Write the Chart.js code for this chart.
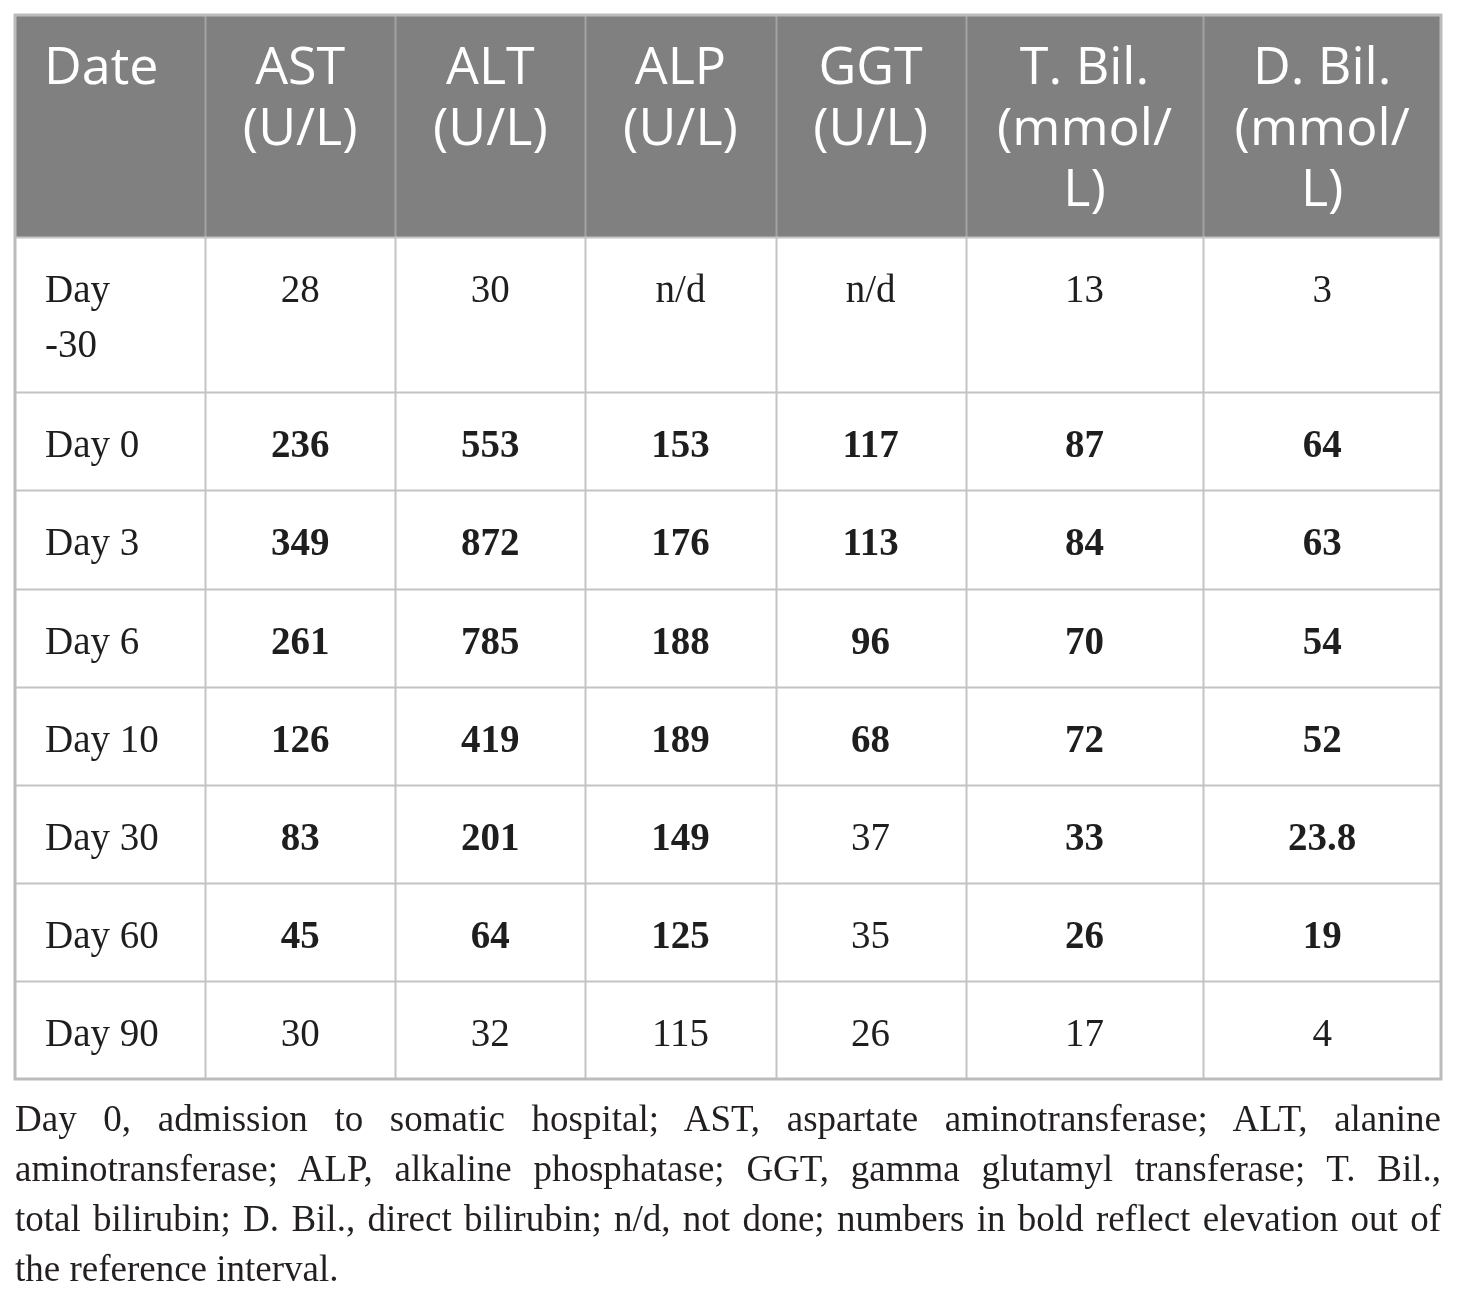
<!DOCTYPE html>
<html lang="en">
<head>
    <meta charset="UTF-8">
    <title>Liver function tests</title>
    <script src="https://cdn.jsdelivr.net/npm/chart.js"></script>
    <style>
        body {
            margin: 0;
            padding: 0;
            background-color: #ffffff;
        }

        .page {
            position: relative;
            width: 1460px;
            height: 1298px;
        }

        #tableChart {
            position: absolute;
            left: 0;
            top: 0;
        }

        .caption {
            position: absolute;
            left: 15px;
            top: 1094px;
            width: 1426px;
            font-family: "Liberation Serif", "DejaVu Serif", serif;
            font-size: 37px;
            line-height: 50px;
            color: #231f20;
        }

        .caption div {
            text-align: justify;
            text-align-last: justify;
            white-space: nowrap;
        }

        .caption div.last {
            text-align-last: left;
        }
    </style>
</head>
<body>
    <div class="page">
        <canvas id="tableChart" width="1460" height="1298"></canvas>
        <div class="caption">
            <div>Day 0, admission to somatic hospital; AST, aspartate aminotransferase; ALT, alanine</div>
            <div>aminotransferase; ALP, alkaline phosphatase; GGT, gamma glutamyl transferase; T. Bil.,</div>
            <div>total bilirubin; D. Bil., direct bilirubin; n/d, not done; numbers in bold reflect elevation out of</div>
            <div class="last">the reference interval.</div>
        </div>
    </div>

    <script>
        // table data
        const headers = [['Date'], ['AST', '(U/L)'], ['ALT', '(U/L)'], ['ALP', '(U/L)'], ['GGT', '(U/L)'],
            ['T. Bil.', '(mmol/', 'L)'], ['D. Bil.', '(mmol/', 'L)']];
        const dates = [['Day', '-30'], ['Day 0'], ['Day 3'], ['Day 6'], ['Day 10'], ['Day 30'], ['Day 60'], ['Day 90']];

        const ast = [28, 236, 349, 261, 126, 83, 45, 30];
        const alt = [30, 553, 872, 785, 419, 201, 64, 32];
        const alp = [null, 153, 176, 188, 189, 149, 125, 115];
        const ggt = [null, 117, 113, 96, 68, 37, 35, 26];
        const tbil = [13, 87, 84, 70, 72, 33, 26, 17];
        const dbil = [3, 64, 63, 54, 52, 23.8, 19, 4];

        // bold = above the reference interval
        const astBold = [false, true, true, true, true, true, true, false];
        const altBold = [false, true, true, true, true, true, true, false];
        const alpBold = [false, true, true, true, true, true, true, false];
        const ggtBold = [false, true, true, true, true, false, false, false];
        const tbilBold = [false, true, true, true, true, true, true, false];
        const dbilBold = [false, true, true, true, true, true, true, false];

        const series = [
            { values: ast, bold: astBold },
            { values: alt, bold: altBold },
            { values: alp, bold: alpBold },
            { values: ggt, bold: ggtBold },
            { values: tbil, bold: tbilBold },
            { values: dbil, bold: dbilBold }
        ];

        // layout: relative column widths, row heights (header first)
        const columnWeights = [1, 1, 1, 1, 1, 1.25, 1.25];
        const rowHeights = [222, 155, 98, 98, 98, 98, 98, 98, 98];

        function edges(sizes) {
            const e = [0];
            sizes.forEach(s => e.push(e[e.length - 1] + s));
            return e;
        }

        const colEdges = edges(columnWeights);
        const rowEdges = edges(rowHeights);

        const headerFont = '52px "Open Sans", "Noto Sans", sans-serif';
        const bodyFont = '39px "Liberation Serif", "DejaVu Serif", serif';
        const bodyBoldFont = 'bold 39px "Liberation Serif", "DejaVu Serif", serif';

        const tablePlugin = {
            id: 'tableCells',
            beforeDraw(chart) {
                const { ctx, scales: { x, y } } = chart;
                const left = x.getPixelForValue(0);
                const right = x.getPixelForValue(colEdges[colEdges.length - 1]);
                const top = y.getPixelForValue(0);
                const bottom = y.getPixelForValue(rowEdges[rowEdges.length - 1]);
                const headBottom = y.getPixelForValue(rowEdges[1]);

                ctx.save();
                ctx.fillStyle = '#ffffff';
                ctx.fillRect(0, 0, chart.width, chart.height);

                ctx.fillStyle = '#808080';
                ctx.fillRect(left, top, right - left, headBottom - top);

                // column separators
                ctx.lineWidth = 2;
                for (let c = 1; c < colEdges.length - 1; c++) {
                    const cx = Math.round(x.getPixelForValue(colEdges[c])) + 0.5;
                    ctx.strokeStyle = '#a3a3a3';
                    ctx.beginPath();
                    ctx.moveTo(cx, top);
                    ctx.lineTo(cx, headBottom);
                    ctx.stroke();
                    ctx.strokeStyle = '#c4c4c4';
                    ctx.beginPath();
                    ctx.moveTo(cx, headBottom);
                    ctx.lineTo(cx, bottom);
                    ctx.stroke();
                }

                // row separators
                ctx.strokeStyle = '#c4c4c4';
                for (let r = 1; r < rowEdges.length - 1; r++) {
                    const ry = Math.round(y.getPixelForValue(rowEdges[r])) + 0.5;
                    ctx.beginPath();
                    ctx.moveTo(left, ry);
                    ctx.lineTo(right, ry);
                    ctx.stroke();
                }

                // outer border
                ctx.strokeStyle = '#bcbcbc';
                ctx.lineWidth = 3;
                ctx.strokeRect(left, top, right - left, bottom - top);
                ctx.restore();
            },
            afterDraw(chart) {
                const { ctx, scales: { x, y } } = chart;
                ctx.save();
                ctx.textBaseline = 'alphabetic';

                // header row
                ctx.fillStyle = '#ffffff';
                ctx.font = headerFont;
                headers.forEach((lines, c) => {
                    const x0 = x.getPixelForValue(colEdges[c]);
                    const xm = x.getPixelForValue((colEdges[c] + colEdges[c + 1]) / 2);
                    const y0 = y.getPixelForValue(rowEdges[0]);
                    lines.forEach((line, i) => {
                        if (c === 0) {
                            ctx.textAlign = 'left';
                            ctx.fillText(line, x0 + 29, y0 + 69 + i * 61);
                        } else {
                            ctx.textAlign = 'center';
                            ctx.fillText(line, xm, y0 + 69 + i * 61);
                        }
                    });
                });

                // body rows
                ctx.fillStyle = '#1e1e1e';
                dates.forEach((lines, r) => {
                    const y0 = y.getPixelForValue(rowEdges[r + 1]);
                    ctx.font = bodyFont;
                    ctx.textAlign = 'left';
                    lines.forEach((line, i) => {
                        ctx.fillText(line, x.getPixelForValue(colEdges[0]) + 30, y0 + 65 + i * 55);
                    });
                    series.forEach((s, k) => {
                        const c = k + 1;
                        const xm = x.getPixelForValue((colEdges[c] + colEdges[c + 1]) / 2);
                        const v = s.values[r];
                        ctx.font = s.bold[r] ? bodyBoldFont : bodyFont;
                        ctx.textAlign = 'center';
                        ctx.fillText(v === null ? 'n/d' : String(v), xm, y0 + 65);
                    });
                });
                ctx.restore();
            }
        };

        new Chart(document.getElementById('tableChart'), {
            type: 'scatter',
            data: { datasets: [] },
            options: {
                responsive: false,
                animation: false,
                devicePixelRatio: 1,
                layout: { padding: { left: 15, top: 15, right: 19, bottom: 219 } },
                plugins: {
                    legend: { display: false },
                    tooltip: { enabled: false }
                },
                scales: {
                    x: { type: 'linear', display: false, min: 0, max: colEdges[colEdges.length - 1] },
                    y: { type: 'linear', display: false, min: 0, max: rowEdges[rowEdges.length - 1], reverse: true }
                }
            },
            plugins: [tablePlugin]
        });
    </script>
</body>
</html>
